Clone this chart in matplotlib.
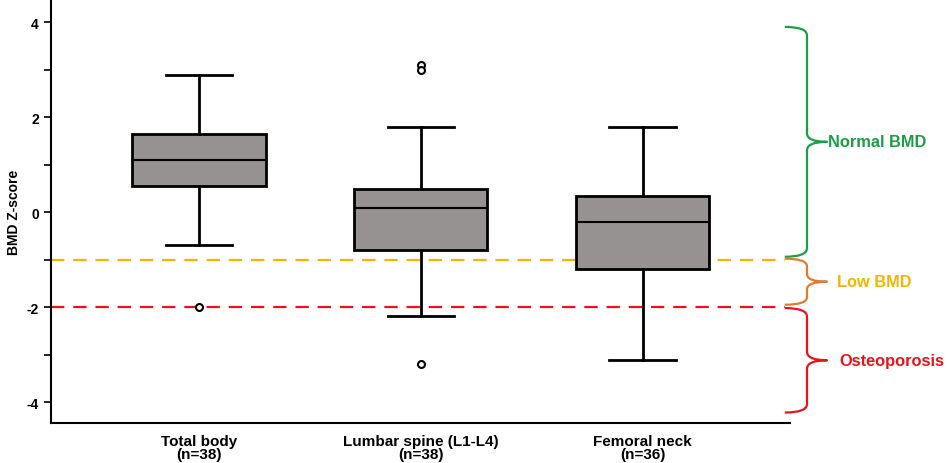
import matplotlib
matplotlib.use("Agg")
import matplotlib.pyplot as plt
from matplotlib.path import Path
from matplotlib.patches import PathPatch

plt.rcParams['font.family'] = ['Liberation Sans', 'DejaVu Sans']
plt.rcParams['axes.unicode_minus'] = False

categories = ["Total body\n(n=38)", "Lumbar spine (L1-L4)\n(n=38)", "Femoral neck\n(n=36)"]
whislo = [-0.70, -2.19, -3.11]
q1 = [0.54, -0.80, -1.19]
med = [1.09, 0.09, -0.20]
q3 = [1.65, 0.49, 0.35]
whishi = [2.89, 1.79, 1.79]
fliers = [[-2.0], [3.1, 3.0, -3.19], []]

low_bmd_line = -1.0
osteo_line = -2.0

zones = ["Normal BMD", "Low BMD", "Osteoporosis"]
zone_top = [3.90, -0.98, -2.02]
zone_bot = [-0.94, -1.95, -4.22]
zone_brace_color = ["#1a9e46", "#e07b30", "#e8141c"]
zone_text_color = ["#1a9e46", "#f5b400", "#e8141c"]

fig = plt.figure(figsize=(9.48, 4.64), dpi=100)
ax = fig.add_axes([0.0535, 0.0862, 0.7795, 0.912])

stats = []
for i in range(3):
    stats.append(dict(med=med[i], q1=q1[i], q3=q3[i], whislo=whislo[i],
                      whishi=whishi[i], fliers=fliers[i]))

positions = [1, 2, 3]
ax.bxp(stats, positions=positions, widths=0.60, patch_artist=True,
       boxprops=dict(facecolor="#969291", edgecolor="black", linewidth=2.0),
       medianprops=dict(color="black", linewidth=1.5),
       whiskerprops=dict(color="black", linewidth=2.0),
       capprops=dict(color="black", linewidth=2.0),
       capwidths=0.30,
       flierprops=dict(marker="o", markersize=5, markerfacecolor="white",
                       markeredgecolor="black", markeredgewidth=1.5),
       zorder=3)

ax.set_xlim(0.332, 3.662)
ax.set_ylim(-4.44, 4.47)

ax.plot([0.332, 3.64], [low_bmd_line, low_bmd_line], color="#f5b400",
        linestyle=(0, (6, 4)), linewidth=1.6, zorder=2)
ax.plot([0.332, 3.64], [osteo_line, osteo_line], color="#e8141c",
        linestyle=(0, (6, 4)), linewidth=1.6, zorder=2)

# braces
x0, x1, xt = 3.64, 3.74, 3.83
text_x = [3.835, 3.875, 3.885]
for i in range(3):
    top, bot = zone_top[i], zone_bot[i]
    mid = (top + bot) / 2
    r = min(0.18, (top - bot) / 6)
    verts = [
        (x0, top), (x1, top), (x1, top - r),
        (x1, mid + r),
        (x1, mid), (xt, mid),
        (x1, mid), (x1, mid - r),
        (x1, bot + r),
        (x1, bot), (x0, bot),
    ]
    codes = [Path.MOVETO, Path.CURVE3, Path.CURVE3,
             Path.LINETO,
             Path.CURVE3, Path.CURVE3,
             Path.CURVE3, Path.CURVE3,
             Path.LINETO,
             Path.CURVE3, Path.CURVE3]
    p = PathPatch(Path(verts, codes), facecolor="none",
                  edgecolor=zone_brace_color[i], linewidth=1.6,
                  clip_on=False, transform=ax.transData, joinstyle="round")
    ax.add_patch(p)
    ax.text(text_x[i], mid, zones[i],
            color=zone_text_color[i], fontsize=11.8, fontweight="bold",
            ha="left", va="center", clip_on=False)

ax.set_xticks(positions)
ax.set_xticklabels(categories, fontsize=11, fontweight="bold", linespacing=0.9)
ax.tick_params(axis="x", length=0, pad=8)
ax.set_yticks([-4, -2, 0, 2, 4])
ax.set_yticks([-3, -1, 1, 3], minor=True)
ax.tick_params(axis="y", which="both", length=5, width=1.2, direction="out",
               labelsize=10)
for lbl in ax.get_yticklabels():
    lbl.set_fontweight("bold")
ax.set_ylabel("BMD Z-score", fontsize=10, fontweight="bold", labelpad=4)

ax.spines["top"].set_visible(False)
ax.spines["right"].set_visible(False)
ax.spines["left"].set_linewidth(1.5)
ax.spines["bottom"].set_linewidth(1.5)

fig.savefig("out.png", dpi=100)
